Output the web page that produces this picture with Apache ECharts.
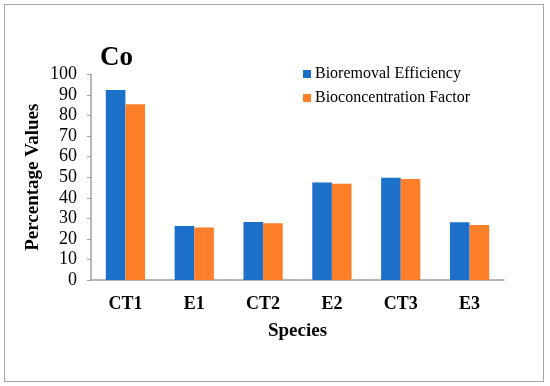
<!DOCTYPE html>
<html><head><meta charset="utf-8">
<script src="https://cdn.jsdelivr.net/npm/echarts@6/dist/echarts.min.js"></script>
<style>html,body{margin:0;padding:0;background:#fff}#c{width:550px;height:386px}
#frame{position:absolute;left:4px;top:4px;width:538px;height:376px;border:1.5px solid #a6a6a6;pointer-events:none}</style>
</head><body><div id="c"></div><div id="frame"></div>
<script>
const categories = ['CT1','E1','CT2','E2','CT3','E3'];
const bioremoval = [92.5, 26.3, 28.2, 47.5, 49.8, 28.1];
const bioconcentration = [85.5, 25.6, 27.6, 46.8, 49.1, 26.8];
const seriesNames = ['Bioremoval Efficiency','Bioconcentration Factor'];
const F = 'Liberation Serif';
const chart = echarts.init(document.getElementById('c'));
chart.setOption({
  animation:false,
  title:{text:'Co',left:95,top:40,textStyle:{fontFamily:F,fontSize:27,fontWeight:'bold',color:'#000'}},
  legend:{orient:'vertical',left:303,top:66,padding:0,itemWidth:8,itemHeight:8,itemGap:8,icon:'rect',
    textStyle:{fontFamily:F,fontSize:16,color:'#000',padding:[0,0,0,-1]},data:seriesNames},
  grid:{left:91,right:46,top:74.5,bottom:106},
  xAxis:{type:'category',data:categories,name:'Species',nameLocation:'middle',nameGap:42,
    nameTextStyle:{fontFamily:F,fontSize:19,fontWeight:'bold',color:'#000'},
    axisLine:{lineStyle:{color:'#a0a0a0',width:1.5}},axisTick:{show:false},
    axisLabel:{fontFamily:F,fontSize:18,fontWeight:'bold',color:'#000',margin:15}},
  yAxis:{type:'value',min:0,max:100,interval:10,name:'Percentage Values',nameLocation:'middle',nameGap:48,
    nameMoveOverlap:false,
    nameTextStyle:{fontFamily:F,fontSize:19,fontWeight:'bold',color:'#000'},
    axisLine:{show:true,lineStyle:{color:'#a0a0a0',width:1.5}},axisTick:{show:true,length:4,lineStyle:{color:'#a0a0a0'}},
    splitLine:{show:false},
    axisLabel:{fontFamily:F,fontSize:18,color:'#000',margin:14}},
  series:[
    {name:seriesNames[0],type:'bar',data:bioremoval,barGap:'0%',barCategoryGap:'43%',itemStyle:{color:'#1b71c9'}},
    {name:seriesNames[1],type:'bar',data:bioconcentration,itemStyle:{color:'#fe7f2a'}}
  ]
});
</script></body></html>
